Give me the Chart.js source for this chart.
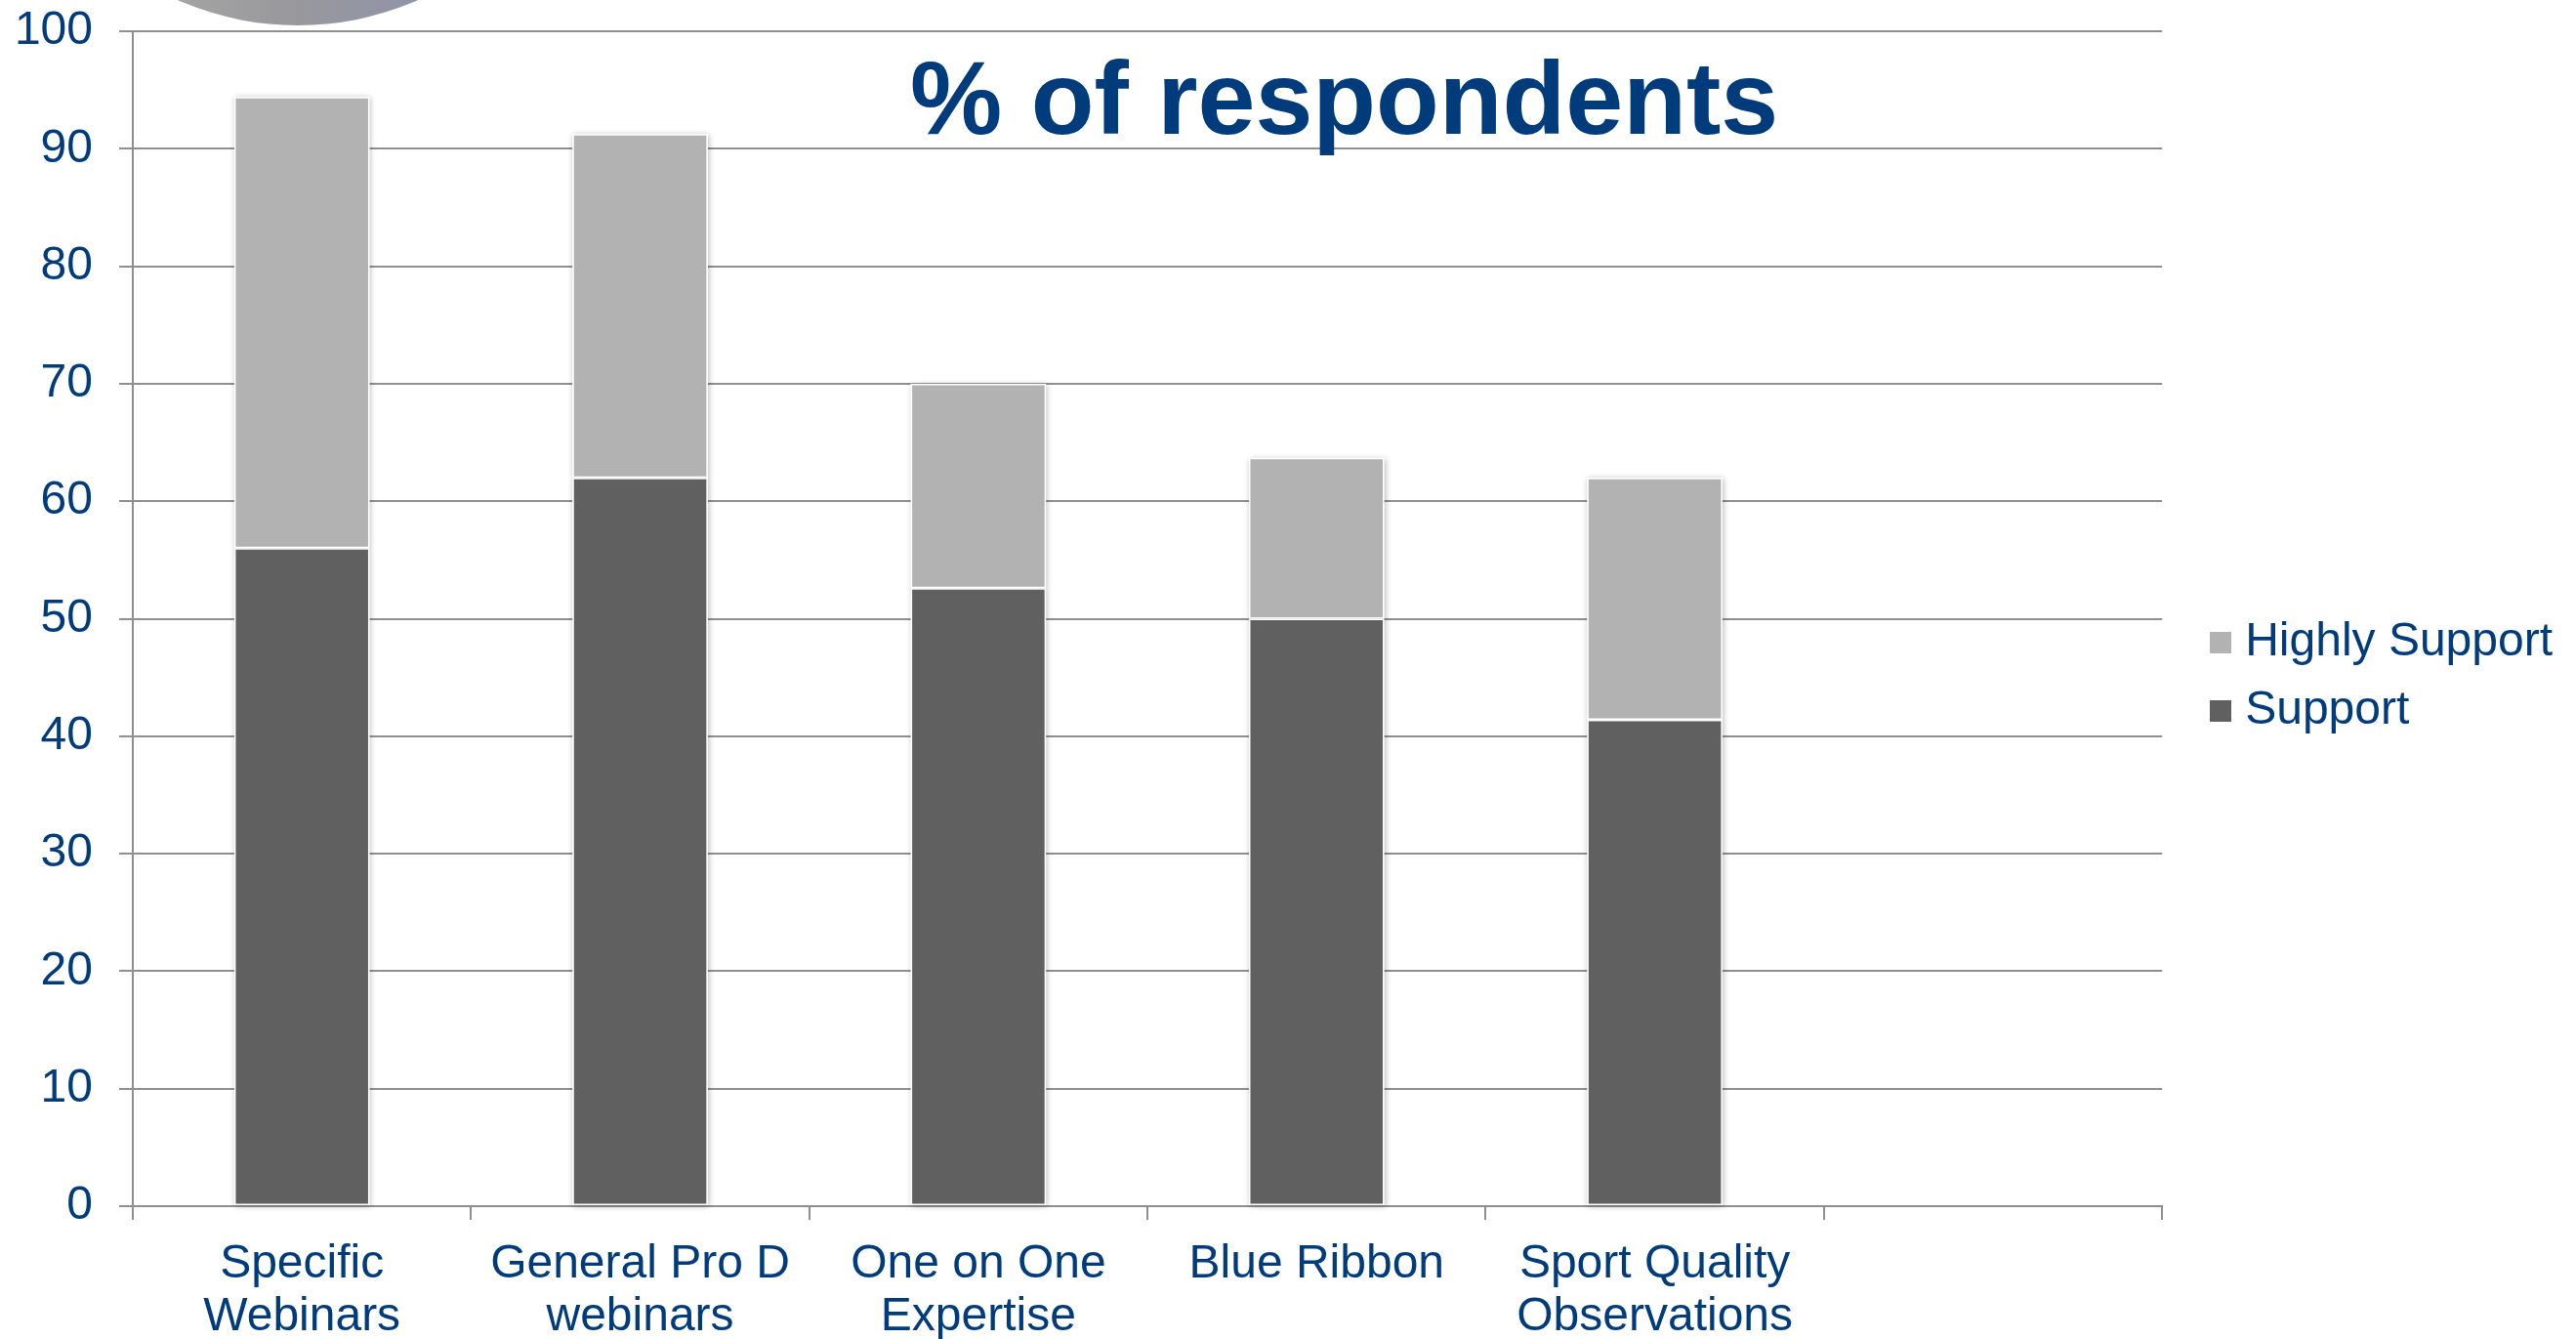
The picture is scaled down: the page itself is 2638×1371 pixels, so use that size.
<!DOCTYPE html>
<html>
<head>
<meta charset="utf-8">
<title>% of respondents</title>
<script src="https://cdn.jsdelivr.net/npm/chart.js@4.4.1/dist/chart.umd.min.js"></script>
<style>
  html, body { margin: 0; padding: 0; background: #fff; }
  canvas { display: block; }
</style>
</head>
<body>
<canvas id="grafico" width="2638" height="1371"></canvas>
<script>
const categorias = [
  ["Specific", "Webinars"],
  ["General Pro D", "webinars"],
  ["One on One", "Expertise"],
  "Blue Ribbon",
  ["Sport Quality", "Observations"],
  "",
];
const apoio = [56, 62, 52.6, 50, 41.4, null];
const apoioForte = [38.4, 29.25, 17.4, 13.7, 20.6, null];
const ticksY = [0, 10, 20, 30, 40, 50, 60, 70, 80, 90, 100];

const azul = "#003b7b";
const cinzaLinha = "#8f8f8f";
const corApoio = "#606060";
const corApoioForte = "#b2b2b2";
const fonte = "'Liberation Sans', Arial, sans-serif";
const tamFonte = 48;

// quadradinho da legenda desenhado num canvas próprio
function quadrado(cor) {
  const c = document.createElement("canvas");
  c.width = 22;
  c.height = 22;
  const g = c.getContext("2d");
  g.fillStyle = cor;
  g.fillRect(0, 0, 22, 22);
  return c;
}
const marcadores = [quadrado(corApoio), quadrado(corApoioForte)];

// sombra suave atrás das barras (desenhada antes, só fica visível por fora)
const sombraBarras = {
  id: "sombraBarras",
  beforeDatasetsDraw(chart) {
    const ctx = chart.ctx;
    ctx.save();
    ctx.shadowColor = "rgba(0,0,0,0.28)";
    ctx.shadowBlur = 6;
    ctx.shadowOffsetX = 1;
    ctx.shadowOffsetY = 1;
    ctx.fillStyle = "#ffffff";
    chart.data.datasets.forEach((ds, i) => {
      chart.getDatasetMeta(i).data.forEach((bar) => {
        const { x, y, base, width } = bar.getProps(["x", "y", "base", "width"], true);
        if (!isFinite(y) || !isFinite(base)) return;
        ctx.fillRect(x - width / 2, Math.min(y, base), width, Math.abs(base - y));
      });
    });
    ctx.restore();
  },
};

// pedaço da foto que aparece no canto superior
const fotoCanto = {
  id: "fotoCanto",
  beforeDraw(chart) {
    const ctx = chart.ctx;
    const g = ctx.createLinearGradient(180, 0, 435, 0);
    g.addColorStop(0, "#a4a4a4");
    g.addColorStop(0.5, "#98989c");
    g.addColorStop(1, "#9093aa");
    ctx.save();
    ctx.beginPath();
    ctx.arc(305, -279, 305, 0, Math.PI * 2);
    ctx.fillStyle = g;
    ctx.fill();
    ctx.restore();
  },
};

// título dentro da área do gráfico
const tituloInterno = {
  id: "tituloInterno",
  afterDraw(chart) {
    const { ctx, chartArea } = chart;
    ctx.save();
    ctx.font = "bold 106px " + fonte;
    ctx.fillStyle = azul;
    ctx.textAlign = "center";
    ctx.textBaseline = "alphabetic";
    ctx.fillText("% of respondents", chartArea.left + chartArea.width * 0.597, chartArea.top + 105);
    ctx.restore();
  },
};

// afasta a legenda um pouco do gráfico
const ajusteLegenda = {
  id: "ajusteLegenda",
  afterLayout(chart) {
    const lg = chart.legend;
    lg.left += 37;
    lg.right += 37;
    lg.top -= 9;
    lg.bottom -= 9;
  },
};

const ctx = document.getElementById("grafico");
new Chart(ctx, {
  type: "bar",
  data: {
    labels: categorias,
    datasets: [
      {
        label: "Support",
        data: apoio,
        backgroundColor: corApoio,
        borderColor: "#ffffff",
        borderWidth: 1.5,
        borderSkipped: false,
      },
      {
        label: "Highly Support",
        data: apoioForte,
        backgroundColor: corApoioForte,
        borderColor: "#ffffff",
        borderWidth: 1.5,
        borderSkipped: false,
      },
    ],
  },
  options: {
    responsive: false,
    animation: false,
    devicePixelRatio: 1,
    layout: { padding: { left: 15, right: 51, top: 32, bottom: 0 } },
    datasets: { bar: { barPercentage: 0.4, categoryPercentage: 1 } },
    scales: {
      x: {
        stacked: true,
        afterFit: (eixo) => {
          eixo.paddingLeft = 0;
          eixo.paddingRight = 0;
          eixo.height = 136;
        },
        grid: {
          drawOnChartArea: false,
          drawTicks: true,
          tickLength: 14,
          color: cinzaLinha,
          lineWidth: 2,
        },
        border: { display: true, color: cinzaLinha, width: 2 },
        ticks: {
          color: azul,
          padding: 19,
          maxRotation: 0,
          autoSkip: false,
          font: { family: fonte, size: tamFonte, lineHeight: 1.12 },
        },
      },
      y: {
        stacked: true,
        min: 0,
        max: 100,
        afterBuildTicks: (eixo) => {
          eixo.ticks = ticksY.map((v) => ({ value: v }));
        },
        afterFit: (eixo) => {
          eixo.paddingTop = 0;
          eixo.paddingBottom = 0;
          eixo.width = 121;
        },
        grid: {
          drawTicks: true,
          tickLength: 14,
          color: cinzaLinha,
          lineWidth: 2,
        },
        border: { display: true, color: cinzaLinha, width: 2 },
        ticks: {
          color: azul,
          padding: 27,
          font: { family: fonte, size: tamFonte },
        },
      },
    },
    plugins: {
      tooltip: { enabled: false },
      legend: {
        position: "right",
        reverse: true,
        labels: {
          usePointStyle: true,
          pointStyleWidth: 2,
          boxHeight: 22,
          padding: 22,
          color: azul,
          font: { family: fonte, size: tamFonte },
          generateLabels: (chart) =>
            Chart.defaults.plugins.legend.labels
              .generateLabels(chart)
              .map((l) => ({ ...l, lineWidth: 0, pointStyle: marcadores[l.datasetIndex] })),
        },
      },
    },
  },
  plugins: [fotoCanto, sombraBarras, tituloInterno, ajusteLegenda],
});
</script>
</body>
</html>
